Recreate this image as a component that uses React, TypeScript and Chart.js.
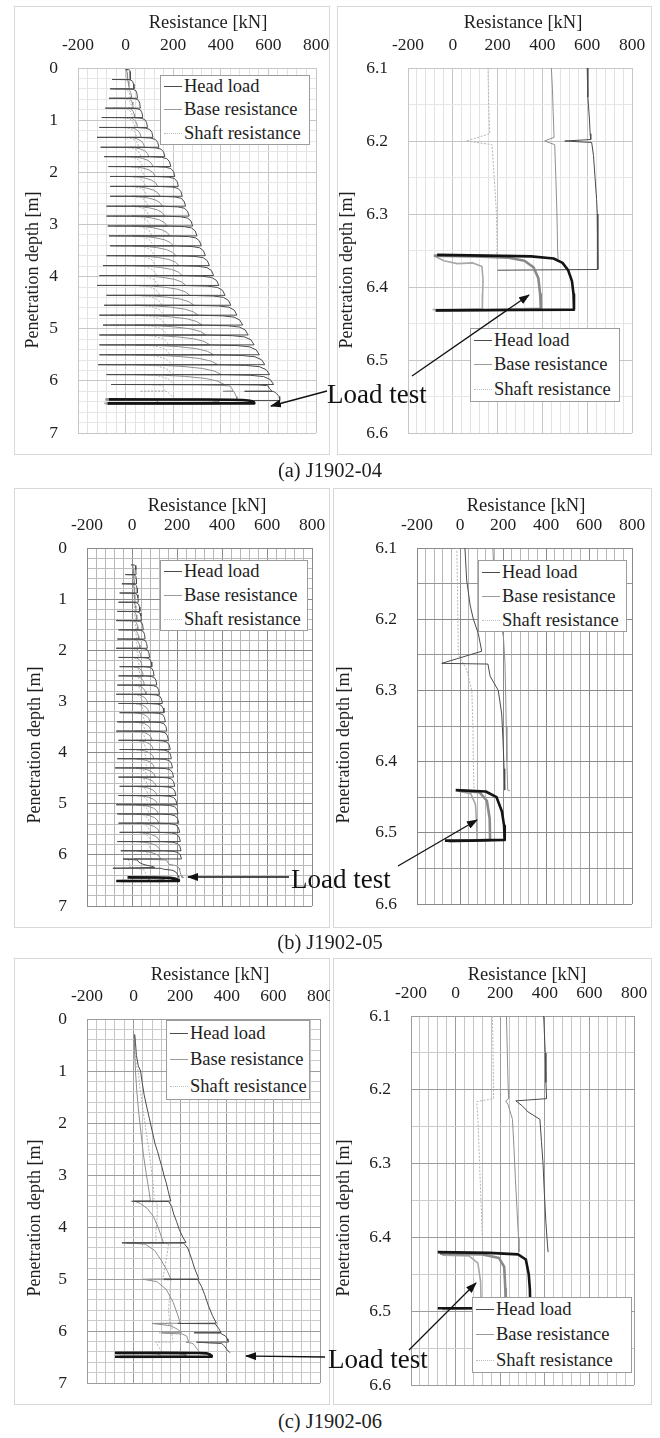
import React, { useEffect, useRef } from "react";
import { Chart, registerables } from "chart.js";

Chart.register(...registerables);

type P = [number, number];

// ---------------- axis / text values ----------------
const X_MIN = -200;
const X_MAX = 800;
const X_GRID_STEP = 40;
const X_LABEL_STEP = 200;
const LEFT_Y = { min: 0, max: 7, step: 0.2, label: 1 };
const RIGHT_Y = { min: 6.1, max: 6.6, step: 0.05, label: 0.1 };
const LEGEND_LABELS = ["Head load", "Base resistance", "Shaft resistance"];
const CAPTIONS = ["(a) J1902-04", "(b) J1902-05", "(c) J1902-06"];
const X_TITLE = "Resistance [kN]";
const Y_TITLE = "Penetration depth [m]";
const NOTE = "Load test";

// ---------------- stroke shapes (fractions) ----------------
const HEAD_SHAPE_L = [0, 0.7, 0.86, 0.94, 0.98, 1];
const HEAD_SHAPE_D = [0, 0.015, 0.07, 0.2, 0.5, 1];
const BASE_SHAPE_L = [0, 0.3, 0.55, 0.78, 0.92, 1];
const BASE_SHAPE_D = [0, 0.06, 0.18, 0.38, 0.65, 1];
const SHAFT_SHAPE_L = [0, 0.5, 0.75, 0.9, 1];
const SHAFT_SHAPE_D = [0, 0.03, 0.12, 0.4, 1];

// ---------------- (a) J1902-04 ----------------
const A_DEPTH = [0.03, 0.22, 0.4, 0.58, 0.77, 0.95, 1.14, 1.33, 1.52, 1.7, 1.89, 2.08, 2.27, 2.46, 2.65, 2.84, 3.03, 3.22, 3.41, 3.6, 3.79, 3.98, 4.17, 4.36, 4.55, 4.74, 4.93, 5.12, 5.31, 5.5, 5.69, 5.88, 6.07];
const A_HEAD_PEAK = [20, 35, 50, 62, 72, 92, 115, 140, 165, 190, 207, 222, 238, 252, 267, 282, 300, 318, 335, 352, 370, 392, 418, 442, 468, 492, 515, 540, 562, 585, 605, 622];
const A_HEAD_MIN = [0, -57, -65, -70, -85, -100, -110, -120, -105, -90, -72, -65, -65, -65, -80, -80, -75, -70, -65, -80, -95, -110, -120, -80, -90, -110, -95, -110, -110, -110, -115, -80];
const A_BASE_PEAK = [8, 15, 25, 32, 38, 50, 65, 80, 98, 115, 125, 135, 145, 155, 165, 175, 187, 200, 212, 225, 238, 253, 270, 287, 305, 322, 338, 355, 370, 388, 402, 415];
const A_BASE_MIN = [0, 5, 8, 10, 12, 14, 15, 16, 18, 20, 20, 22, 22, 24, 25, 26, 28, 28, 30, 30, 32, 33, 35, 35, 38, 38, 40, 40, 42, 42, 45, 45];
const A_SHAFT_PEAK = [10, 18, 22, 28, 32, 40, 48, 58, 65, 72, 80, 85, 90, 95, 100, 105, 112, 117, 122, 127, 132, 138, 146, 154, 162, 170, 176, 184, 190, 196, 200, 205];
const A_SHAFT_MIN = [0, -40, -45, -50, -55, -60, -65, -70, -60, -55, -50, -45, -40, -40, -45, -48, -45, -42, -40, -45, -50, -55, -60, -55, -60, -65, -62, -68, -72, -75, -78, -70];
const AD_HEAD: P[] = [[-60, 6.07], [450, 6.073], [560, 6.08], [592, 6.09], [600, 6.1], [603, 6.14], [610, 6.17], [613, 6.19], [616, 6.198], [500, 6.2], [620, 6.202], [628, 6.22], [635, 6.25], [642, 6.28], [645, 6.3], [647, 6.33], [648, 6.37], [648, 6.376], [200, 6.377]];
const AD_BASE: P[] = [[40, 6.07], [300, 6.075], [400, 6.085], [440, 6.1], [445, 6.13], [448, 6.16], [452, 6.195], [410, 6.2], [455, 6.205], [460, 6.25], [465, 6.3], [468, 6.35], [470, 6.362]];
const AD_SHAFT: P[] = [[-60, 6.07], [100, 6.075], [145, 6.085], [157, 6.1], [160, 6.15], [165, 6.19], [60, 6.2], [175, 6.205], [185, 6.25], [195, 6.3], [198, 6.35], [195, 6.362]];
const A_TEST_HEAD: P[] = [[-70, 6.356], [150, 6.357], [350, 6.358], [450, 6.361], [490, 6.367], [515, 6.377], [532, 6.392], [539, 6.41], [541, 6.431], [300, 6.4315], [-75, 6.432]];
const A_TEST_BASE: P[] = [[-85, 6.357], [100, 6.358], [250, 6.36], [320, 6.364], [360, 6.373], [382, 6.388], [390, 6.41], [393, 6.43], [150, 6.4315], [-80, 6.432]];
const A_TEST_SHAFT: P[] = [[-80, 6.358], [-40, 6.364], [20, 6.368], [90, 6.367], [130, 6.372], [135, 6.39], [133, 6.41], [132, 6.43], [0, 6.431], [-90, 6.431]];

// ---------------- (b) J1902-05 ----------------
const B_DEPTH = [0.33, 0.52, 0.7, 0.88, 1.06, 1.24, 1.42, 1.6, 1.78, 1.96, 2.14, 2.32, 2.5, 2.68, 2.86, 3.04, 3.22, 3.4, 3.58, 3.76, 3.94, 4.12, 4.3, 4.48, 4.66, 4.84, 5.02, 5.2, 5.38, 5.56, 5.74, 5.92, 6.08];
const B_HEAD_PEAK = [18, 20, 24, 28, 35, 42, 50, 58, 68, 78, 88, 98, 110, 122, 135, 142, 148, 155, 162, 170, 175, 180, 185, 190, 195, 200, 205, 208, 212, 215, 218, 220];
const B_HEAD_MIN = [-5, -30, -45, -55, -60, -65, -70, -60, -65, -70, -60, -55, -60, -65, -70, -60, -55, -65, -70, -60, -55, -65, -75, -60, -55, -60, -70, -65, -60, -55, -65, -50];
const B_BASE_PEAK = [8, 10, 12, 14, 18, 22, 26, 30, 35, 40, 45, 50, 55, 62, 70, 75, 80, 85, 90, 95, 98, 100, 104, 108, 112, 115, 118, 120, 122, 124, 126, 128];
const B_BASE_MIN = [0, 2, 3, 4, 5, 6, 7, 8, 9, 10, 10, 11, 12, 12, 13, 14, 15, 15, 16, 16, 17, 18, 18, 19, 20, 20, 21, 22, 22, 23, 24, 25];
const B_SHAFT_PEAK = [8, 9, 10, 12, 14, 17, 20, 23, 26, 30, 34, 38, 42, 46, 50, 54, 58, 60, 62, 64, 66, 68, 70, 72, 74, 76, 78, 80, 82, 84, 86, 88];
const B_SHAFT_MIN = [0, -20, -25, -30, -32, -35, -38, -35, -35, -38, -35, -32, -35, -38, -40, -35, -32, -38, -40, -35, -32, -38, -42, -35, -32, -35, -40, -38, -35, -32, -38, -30];
const BD_HEAD: P[] = [[-40, 6.08], [23, 6.1], [31, 6.145], [47, 6.18], [62, 6.2], [85, 6.22], [101, 6.245], [-85, 6.262], [130, 6.263], [140, 6.28], [178, 6.3], [194, 6.333], [200, 6.37], [205, 6.41], [208, 6.44]];
const BD_BASE: P[] = [[10, 6.08], [153, 6.1], [158, 6.14], [165, 6.185], [190, 6.205], [202, 6.225], [209, 6.26], [212, 6.3], [215, 6.35], [218, 6.4], [222, 6.44], [232, 6.441]];
const BD_SHAFT: P[] = [[-30, 6.08], [-15, 6.1], [-12, 6.15], [-10, 6.2], [-8, 6.25], [30, 6.27], [55, 6.3], [60, 6.35], [62, 6.4], [65, 6.44]];
const B_TEST_HEAD: P[] = [[-20, 6.44], [120, 6.442], [170, 6.45], [195, 6.47], [205, 6.49], [208, 6.51], [50, 6.511], [-70, 6.511]];
const B_TEST_BASE: P[] = [[-10, 6.441], [90, 6.443], [125, 6.455], [138, 6.48], [140, 6.51], [-50, 6.512]];
const B_TEST_SHAFT: P[] = [[0, 6.442], [50, 6.445], [72, 6.46], [78, 6.49], [80, 6.51], [-55, 6.512]];

// ---------------- (c) J1902-06 ----------------
const C_HEAD: P[] = [[5, 0.3], [8, 0.45], [12, 0.7], [20, 0.9], [30, 1.0], [36, 1.2], [45, 1.45], [52, 1.6], [62, 1.8], [72, 2.0], [82, 2.2], [92, 2.4], [103, 2.55], [112, 2.7], [122, 2.85], [130, 3.0], [140, 3.15], [148, 3.3], [156, 3.45], [160, 3.5], [-5, 3.505], [150, 3.51], [163, 3.6], [172, 3.75], [185, 3.9], [196, 4.05], [212, 4.2], [225, 4.3], [-50, 4.305], [215, 4.31], [232, 4.4], [248, 4.6], [262, 4.8], [280, 5.0], [130, 5.005], [275, 5.01], [292, 5.15], [305, 5.3], [320, 5.5], [338, 5.7], [355, 5.85], [190, 5.855], [350, 5.86], [365, 5.95], [375, 6.03], [260, 6.035], [372, 6.04], [395, 6.1]];
const C_BASE: P[] = [[2, 0.3], [4, 0.6], [8, 1.0], [14, 1.4], [22, 1.8], [32, 2.2], [42, 2.6], [55, 3.0], [66, 3.3], [72, 3.5], [5, 3.505], [30, 3.55], [60, 3.65], [85, 3.8], [105, 4.0], [120, 4.2], [128, 4.3], [-30, 4.305], [50, 4.33], [90, 4.45], [120, 4.65], [145, 4.85], [160, 5.0], [40, 5.005], [100, 5.05], [140, 5.2], [170, 5.45], [190, 5.7], [200, 5.85], [80, 5.855], [160, 5.9], [190, 5.97], [205, 6.03], [120, 6.035], [210, 6.06], [228, 6.1]];
const C_SHAFT: P[] = [[3, 0.3], [4, 0.6], [12, 0.9], [20, 1.0], [26, 1.3], [36, 1.6], [45, 1.9], [55, 2.2], [65, 2.5], [75, 2.85], [85, 3.2], [88, 3.5], [-15, 3.505], [100, 3.52], [102, 3.7], [100, 3.9], [95, 4.1], [97, 4.3], [-40, 4.305], [150, 4.32], [145, 4.5], [135, 4.75], [125, 5.0], [60, 5.005], [160, 5.02], [155, 5.3], [150, 5.6], [155, 5.85], [80, 5.855], [165, 5.87], [165, 5.95], [165, 6.03], [110, 6.035], [165, 6.05], [165, 6.1]];
const CD_HEAD: P[] = [[395, 6.1], [402, 6.15], [405, 6.19], [408, 6.212], [270, 6.215], [300, 6.222], [325, 6.23], [378, 6.24], [385, 6.27], [392, 6.3], [398, 6.34], [405, 6.38], [412, 6.41], [415, 6.42]];
const CD_BASE: P[] = [[228, 6.1], [232, 6.15], [236, 6.2], [238, 6.212], [225, 6.215], [235, 6.22], [255, 6.24], [262, 6.28], [268, 6.32], [275, 6.36], [282, 6.4], [284, 6.42]];
const CD_SHAFT: P[] = [[165, 6.1], [168, 6.15], [170, 6.2], [170, 6.212], [95, 6.216], [100, 6.24], [105, 6.28], [110, 6.32], [115, 6.36], [120, 6.4], [122, 6.42]];
const C_TEST_HEAD: P[] = [[-80, 6.42], [150, 6.421], [280, 6.423], [315, 6.43], [328, 6.45], [333, 6.47], [335, 6.495], [100, 6.496], [-80, 6.496]];
const C_TEST_BASE: P[] = [[-70, 6.422], [120, 6.423], [195, 6.428], [218, 6.44], [223, 6.47], [225, 6.495], [-60, 6.497]];
const C_TEST_SHAFT: P[] = [[-60, 6.424], [60, 6.425], [100, 6.435], [112, 6.46], [115, 6.495], [-50, 6.497]];

// ---------------- font detection (serif, Times-like metrics) ----------------
const SERIF_CANDIDATES = ["Liberation Serif", "Times New Roman", "Tinos", "Nimbus Roman", "Nimbus Roman No9 L", "Times", "DejaVu Serif", "Noto Serif", "FreeSerif"];

function detectFont(): { family: string; k: number } {
  try {
    const c = document.createElement("canvas");
    const ctx = c.getContext("2d");
    if (!ctx) return { family: "serif", k: 1 };
    const probe = "Resistance [kN] Wmwil 0123";
    const w = (f: string) => { ctx.font = "60px " + f; return ctx.measureText(probe).width; };
    const mono = w("monospace");
    const sans = w("sans-serif");
    let chosen = "serif";
    for (const cand of SERIF_CANDIDATES) {
      const q = '"' + cand + '"';
      if (Math.abs(w(q + ", monospace") - mono) > 0.5 && Math.abs(w(q + ", sans-serif") - sans) > 0.5) {
        chosen = q;
        break;
      }
    }
    ctx.font = "100px " + chosen;
    const mw = ctx.measureText("Resistance [kN]").width;
    const k = mw > 0 ? 641.5 / mw : 1;
    return { family: chosen + ", serif", k: Math.max(0.7, Math.min(1.15, k)) };
  } catch (e) {
    return { family: "serif", k: 1 };
  }
}
const FONT_INFO = detectFont();
const FONT = FONT_INFO.family;
const FS = (s: number) => Math.round(s * FONT_INFO.k * 10) / 10;

// ---------------- styling / layout ----------------
const STYLES: Record<string, { color: string; width: number; dash: number[] }> = {
  head: { color: "#4a4a4a", width: 1, dash: [] },
  base: { color: "#8e8e8e", width: 1, dash: [] },
  shaft: { color: "#b4b4b4", width: 1, dash: [2, 1.5] },
  testHead: { color: "#141414", width: 2.6, dash: [] },
  testBase: { color: "#8a8a8a", width: 2.6, dash: [] },
  testShaft: { color: "#a8a8a8", width: 1.6, dash: [] },
};

function strokePath(depths: number[], mins: number[], peaks: number[], shapeL: number[], shapeD: number[]): P[] {
  const out: P[] = [];
  for (let i = 0; i < peaks.length; i++) {
    const s = depths[i];
    const e = depths[i + 1];
    for (let k = 0; k < shapeL.length; k++) {
      out.push([mins[i] + (peaks[i] - mins[i]) * shapeL[k], s + (e - s) * shapeD[k]]);
    }
  }
  return out;
}

interface Rect { x: number; y: number; w: number; h: number }
interface Plot { l: number; t: number; r: number; b: number }
interface Series { pts: P[]; style: string }
interface PanelDef {
  box: Rect;
  plot: Plot;
  y: { min: number; max: number; step: number; label: number };
  series: Series[];
  grid: { xMinor: string; xMajor: string; yMinor: string; yMajor: string };
  legend: Rect;
  xTitle: [number, number];
  yTitle: [number, number];
}

const GRID_A = { xMinor: "#e2e2e2", xMajor: "#c6c6c6", yMinor: "#e6e6e6", yMajor: "#c6c6c6" };
const GRID_BL = { xMinor: "#b6b6b6", xMajor: "#8a8a8a", yMinor: "#bcbcbc", yMajor: "#8a8a8a" };
const GRID_BR = { xMinor: "#b6b6b6", xMajor: "#8a8a8a", yMinor: "#959595", yMajor: "#8a8a8a" };
const GRID_C = { xMinor: "#c6c6c6", xMajor: "#9c9c9c", yMinor: "#cbcbcb", yMajor: "#9c9c9c" };

function panelSeries(th: P[], tb: P[], ts: P[], h: P[], b: P[], s: P[]): Series[] {
  return [
    { pts: th, style: "testHead" },
    { pts: tb, style: "testBase" },
    { pts: ts, style: "testShaft" },
    { pts: h, style: "head" },
    { pts: b, style: "base" },
    { pts: s, style: "shaft" },
  ];
}

const aLeft = panelSeries(A_TEST_HEAD, A_TEST_BASE, A_TEST_SHAFT,
  strokePath(A_DEPTH, A_HEAD_MIN, A_HEAD_PEAK, HEAD_SHAPE_L, HEAD_SHAPE_D).concat(AD_HEAD),
  strokePath(A_DEPTH, A_BASE_MIN, A_BASE_PEAK, BASE_SHAPE_L, BASE_SHAPE_D).concat(AD_BASE),
  strokePath(A_DEPTH, A_SHAFT_MIN, A_SHAFT_PEAK, SHAFT_SHAPE_L, SHAFT_SHAPE_D).concat(AD_SHAFT));
const aRight = panelSeries(A_TEST_HEAD, A_TEST_BASE, A_TEST_SHAFT, AD_HEAD, AD_BASE, AD_SHAFT);
const bLeft = panelSeries(B_TEST_HEAD, B_TEST_BASE, B_TEST_SHAFT,
  strokePath(B_DEPTH, B_HEAD_MIN, B_HEAD_PEAK, HEAD_SHAPE_L, HEAD_SHAPE_D).concat(BD_HEAD),
  strokePath(B_DEPTH, B_BASE_MIN, B_BASE_PEAK, BASE_SHAPE_L, BASE_SHAPE_D).concat(BD_BASE),
  strokePath(B_DEPTH, B_SHAFT_MIN, B_SHAFT_PEAK, SHAFT_SHAPE_L, SHAFT_SHAPE_D).concat(BD_SHAFT));
const bRight = panelSeries(B_TEST_HEAD, B_TEST_BASE, B_TEST_SHAFT, BD_HEAD, BD_BASE, BD_SHAFT);
const cLeft = panelSeries(C_TEST_HEAD, C_TEST_BASE, C_TEST_SHAFT, C_HEAD.concat(CD_HEAD), C_BASE.concat(CD_BASE), C_SHAFT.concat(CD_SHAFT));
const cRight = panelSeries(C_TEST_HEAD, C_TEST_BASE, C_TEST_SHAFT, CD_HEAD, CD_BASE, CD_SHAFT);

const PANELS: PanelDef[] = [
  { box: { x: 14, y: 6, w: 316, h: 449 }, plot: { l: 78, t: 68, r: 316, b: 433 }, y: LEFT_Y, series: aLeft, grid: GRID_A, legend: { x: 160, y: 75, w: 150, h: 70 }, xTitle: [208, 22], yTitle: [32, 270] },
  { box: { x: 337, y: 6, w: 315, h: 449 }, plot: { l: 408, t: 68, r: 632, b: 433 }, y: RIGHT_Y, series: aRight, grid: GRID_A, legend: { x: 470, y: 328, w: 150, h: 74 }, xTitle: [523, 22], yTitle: [346, 270] },
  { box: { x: 14, y: 488, w: 316, h: 440 }, plot: { l: 87, t: 548, r: 312, b: 906 }, y: LEFT_Y, series: bLeft, grid: GRID_BL, legend: { x: 160, y: 560, w: 148, h: 71 }, xTitle: [207, 505], yTitle: [34, 745] },
  { box: { x: 333, y: 488, w: 319, h: 440 }, plot: { l: 417, t: 548, r: 632, b: 904 }, y: RIGHT_Y, series: bRight, grid: GRID_BR, legend: { x: 478, y: 560, w: 149, h: 72 }, xTitle: [526, 505], yTitle: [343, 745] },
  { box: { x: 14, y: 958, w: 316, h: 447 }, plot: { l: 87, t: 1019, r: 320, b: 1383 }, y: LEFT_Y, series: cLeft, grid: GRID_C, legend: { x: 166, y: 1020, w: 144, h: 80 }, xTitle: [210, 974], yTitle: [34, 1218] },
  { box: { x: 333, y: 958, w: 319, h: 447 }, plot: { l: 411, t: 1016, r: 634, b: 1385 }, y: RIGHT_Y, series: cRight, grid: GRID_C, legend: { x: 472, y: 1297, w: 160, h: 76 }, xTitle: [527, 974], yTitle: [343, 1218] },
];

const CAPTION_POS: [number, number][] = [[330, 470], [330, 942], [330, 1421]];
const NOTE_POS: [number, number][] = [[327, 403], [291, 888], [328, 1368]];
const ARROWS: number[][] = [
  [327, 391, 271, 406],
  [412, 376, 529, 295],
  [289, 877, 188, 877],
  [398, 866, 477, 820],
  [325, 1357, 246, 1356],
  [409, 1350, 476, 1283],
];

function isMult(v: number, step: number): boolean {
  if (v === undefined || v === null || isNaN(v)) return false;
  const q = v / step;
  return Math.abs(q - Math.round(q)) < 1e-6;
}

function makeTicks(min: number, max: number, step: number): number[] {
  const out: number[] = [];
  const n = Math.round((max - min) / step);
  for (let i = 0; i <= n; i++) out.push(Math.round((min + i * step) * 1e6) / 1e6);
  return out;
}

function ChartPanel({ p }: { p: PanelDef }) {
  const ref = useRef<HTMLCanvasElement | null>(null);
  useEffect(() => {
    const canvas = ref.current;
    if (!canvas) return;
    const xTicks = makeTicks(X_MIN, X_MAX, X_GRID_STEP);
    const yTicks = makeTicks(p.y.min, p.y.max, p.y.step);
    const right = p.box.x + p.box.w - p.plot.r;
    const bottom = p.box.y + p.box.h - p.plot.b;
    const tickFont = { family: FONT, size: FS(17.5) };
    const chart = new Chart(canvas, {
      type: "scatter",
      data: {
        datasets: p.series.map((s, i) => {
          const st = STYLES[s.style];
          return {
            label: s.style + i,
            data: s.pts.map(([x, y]) => ({ x, y })),
            showLine: true,
            pointRadius: 0,
            pointHoverRadius: 0,
            borderColor: st.color,
            backgroundColor: st.color,
            borderWidth: st.width,
            borderDash: st.dash,
            borderJoinStyle: "round" as const,
            tension: 0,
            fill: false,
          };
        }),
      },
      options: {
        animation: false,
        responsive: false,
        devicePixelRatio: 1,
        events: [],
        layout: { padding: { left: 0, top: 0, right, bottom } },
        plugins: { legend: { display: false }, tooltip: { enabled: false }, title: { display: false } },
        scales: {
          x: {
            type: "linear",
            position: "top",
            min: X_MIN,
            max: X_MAX,
            afterBuildTicks: (s: any) => { s.ticks = xTicks.map((v) => ({ value: v })); },
            afterFit: (s: any) => { s.height = p.plot.t - p.box.y; s.paddingLeft = 0; s.paddingRight = 0; },
            ticks: {
              autoSkip: false,
              maxRotation: 0,
              minRotation: 0,
              padding: 12,
              color: "#1e1e1e",
              font: tickFont,
              callback: (v: any) => (isMult(Number(v), X_LABEL_STEP) ? String(v) : ""),
            },
            grid: {
              drawTicks: false,
              lineWidth: 1,
              color: (c: any) => (c.tick && isMult(c.tick.value, X_LABEL_STEP) ? p.grid.xMajor : p.grid.xMinor),
            },
            border: { display: true, color: p.grid.xMajor, width: 1 },
          },
          y: {
            type: "linear",
            position: "left",
            reverse: true,
            min: p.y.min,
            max: p.y.max,
            afterBuildTicks: (s: any) => { s.ticks = yTicks.map((v) => ({ value: v })); },
            afterFit: (s: any) => { s.width = p.plot.l - p.box.x; s.paddingTop = 0; s.paddingBottom = 0; },
            ticks: {
              autoSkip: false,
              padding: 20,
              color: "#1e1e1e",
              font: tickFont,
              callback: (v: any) => {
                const n = Number(v);
                if (!isMult(n, p.y.label)) return "";
                return p.y.label < 1 ? n.toFixed(1) : String(Math.round(n));
              },
            },
            grid: {
              drawTicks: false,
              lineWidth: 1,
              color: (c: any) => (c.tick && isMult(c.tick.value, p.y.label) ? p.grid.yMajor : p.grid.yMinor),
            },
            border: { display: true, color: p.grid.yMajor, width: 1 },
          },
        },
      } as any,
    });
    return () => chart.destroy();
  }, [p]);
  return (
    <canvas
      ref={ref}
      width={p.box.w}
      height={p.box.h}
      style={{ position: "absolute", left: p.box.x, top: p.box.y, width: p.box.w, height: p.box.h }}
    />
  );
}

const LEGEND_STYLE = [
  { color: "#4a4a4a", dash: "solid" },
  { color: "#9a9a9a", dash: "solid" },
  { color: "#bdbdbd", dash: "dotted" },
];

function Legend({ r }: { r: Rect }) {
  const rowH = r.h / 3;
  return (
    <div
      style={{
        position: "absolute", left: r.x, top: r.y, width: r.w, height: r.h,
        border: "1px solid #9c9c9c", background: "#fff", boxSizing: "border-box",
        fontFamily: FONT, fontSize: FS(18.5), color: "#1e1e1e",
      }}
    >
      {LEGEND_LABELS.map((t, i) => (
        <div key={t} style={{ position: "absolute", left: 3, top: i * rowH - 1, height: rowH, display: "flex", alignItems: "center", whiteSpace: "nowrap" }}>
          <span style={{ display: "inline-block", width: 18, height: 0, borderTop: `1px ${LEGEND_STYLE[i].dash} ${LEGEND_STYLE[i].color}`, marginRight: 2 }} />
          <span>{t}</span>
        </div>
      ))}
    </div>
  );
}

function Label({ x, y, text, size, rotate }: { x: number; y: number; text: string; size: number; rotate?: boolean }) {
  return (
    <div style={{ position: "absolute", left: x, top: y, width: 0, height: 0 }}>
      <div
        style={{
          position: "absolute", left: 0, top: 0, whiteSpace: "nowrap",
          fontFamily: FONT, fontSize: size, color: "#1e1e1e", lineHeight: 1,
          transform: `translate(-50%, -50%)${rotate ? " rotate(-90deg)" : ""}`,
        }}
      >
        {text}
      </div>
    </div>
  );
}

export default function App() {
  return (
    <div style={{ position: "absolute", left: 0, top: 0, width: 660, height: 1438, background: "#fff", overflow: "hidden" }}>
      {PANELS.map((p, i) => (
        <div key={"b" + i} style={{ position: "absolute", left: p.box.x, top: p.box.y, width: p.box.w, height: p.box.h, border: "1px solid #d8d8d8", boxSizing: "border-box" }} />
      ))}
      {PANELS.map((p, i) => (
        <ChartPanel key={"c" + i} p={p} />
      ))}
      {PANELS.map((p, i) => (
        <Legend key={"l" + i} r={p.legend} />
      ))}
      {PANELS.map((p, i) => (
        <React.Fragment key={"t" + i}>
          <Label x={p.xTitle[0]} y={p.xTitle[1]} text={X_TITLE} size={FS(18.5)} />
          <Label x={p.yTitle[0]} y={p.yTitle[1]} text={Y_TITLE} size={FS(18)} rotate />
        </React.Fragment>
      ))}
      {CAPTIONS.map((c, i) => (
        <Label key={c} x={CAPTION_POS[i][0]} y={CAPTION_POS[i][1]} text={c} size={FS(20.5)} />
      ))}
      <svg width={660} height={1438} style={{ position: "absolute", left: 0, top: 0, pointerEvents: "none" }}>
        <defs>
          <marker id="ah" markerWidth="11" markerHeight="8" refX="10" refY="4" orient="auto" markerUnits="userSpaceOnUse">
            <path d="M0,0 L11,4 L0,8 z" fill="#111" />
          </marker>
        </defs>
        {ARROWS.map((a, i) => (
          <line key={i} x1={a[0]} y1={a[1]} x2={a[2]} y2={a[3]} stroke="#111" strokeWidth={1.3} markerEnd="url(#ah)" />
        ))}
        {NOTE_POS.map((n, i) => (
          <text key={i} x={n[0]} y={n[1]} fontFamily={FONT} fontSize={FS(27)} fill="#111">{NOTE}</text>
        ))}
      </svg>
    </div>
  );
}
